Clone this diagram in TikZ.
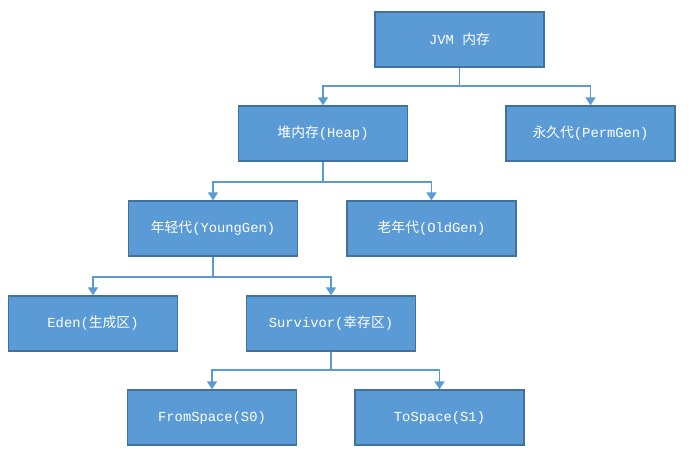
\documentclass[tikz,border=0pt]{standalone}
\usepackage{fontspec}
\setmainfont{Liberation Mono}
\newfontfamily\cjk{Noto Sans CJK SC}
\usetikzlibrary{arrows.meta}
\definecolor{boxfill}{HTML}{5B9BD5}
\definecolor{boxline}{HTML}{41719C}
\definecolor{connline}{HTML}{5B9BD5}
\tikzset{
  box/.style={rectangle, draw=boxline, line width=1.4pt, fill=boxfill,
    minimum width=169pt, minimum height=55pt, inner sep=0pt,
    text=white, font=\fontsize{13.8}{16}\selectfont},
  conn/.style={draw=connline, line width=1.7pt,
    -{Triangle[width=10pt,length=8pt]}}
}
\begin{document}
\begin{tikzpicture}[x=1pt,y=-1pt]
\useasboundingbox (0,0) rectangle (695,453);
\node[box] (jvm)  at (459.5,39.5) {JVM {\cjk 内存}};
\node[box] (heap) at (323,133.5) {{\cjk 堆内存}(Heap)};
\node[box] (perm) at (590.5,133.5) {{\cjk 永久代}(PermGen)};
\node[box] (young) at (213,228.5) {{\cjk 年轻代}(YoungGen)};
\node[box] (old) at (431.5,228.5) {{\cjk 老年代}(OldGen)};
\node[box] (eden) at (93,323.5) {Eden({\cjk 生成区})};
\node[box] (surv) at (331,323.5) {Survivor({\cjk 幸存区})};
\node[box] (from) at (212,417.5) {FromSpace(S0)};
\node[box] (to) at (439.5,417.5) {ToSpace(S1)};
\draw[conn] (jvm.south) -- ++(0,18) -| (heap.north);
\draw[conn] (jvm.south) -- ++(0,18) -| (perm.north);
\draw[conn] (heap.south) -- ++(0,20) -| (young.north);
\draw[conn] (heap.south) -- ++(0,20) -| (old.north);
\draw[conn] (young.south) -- ++(0,20) -| (eden.north);
\draw[conn] (young.south) -- ++(0,20) -| (surv.north);
\draw[conn] (surv.south) -- ++(0,18) -| (from.north);
\draw[conn] (surv.south) -- ++(0,18) -| (to.north);
\end{tikzpicture}
\end{document}
